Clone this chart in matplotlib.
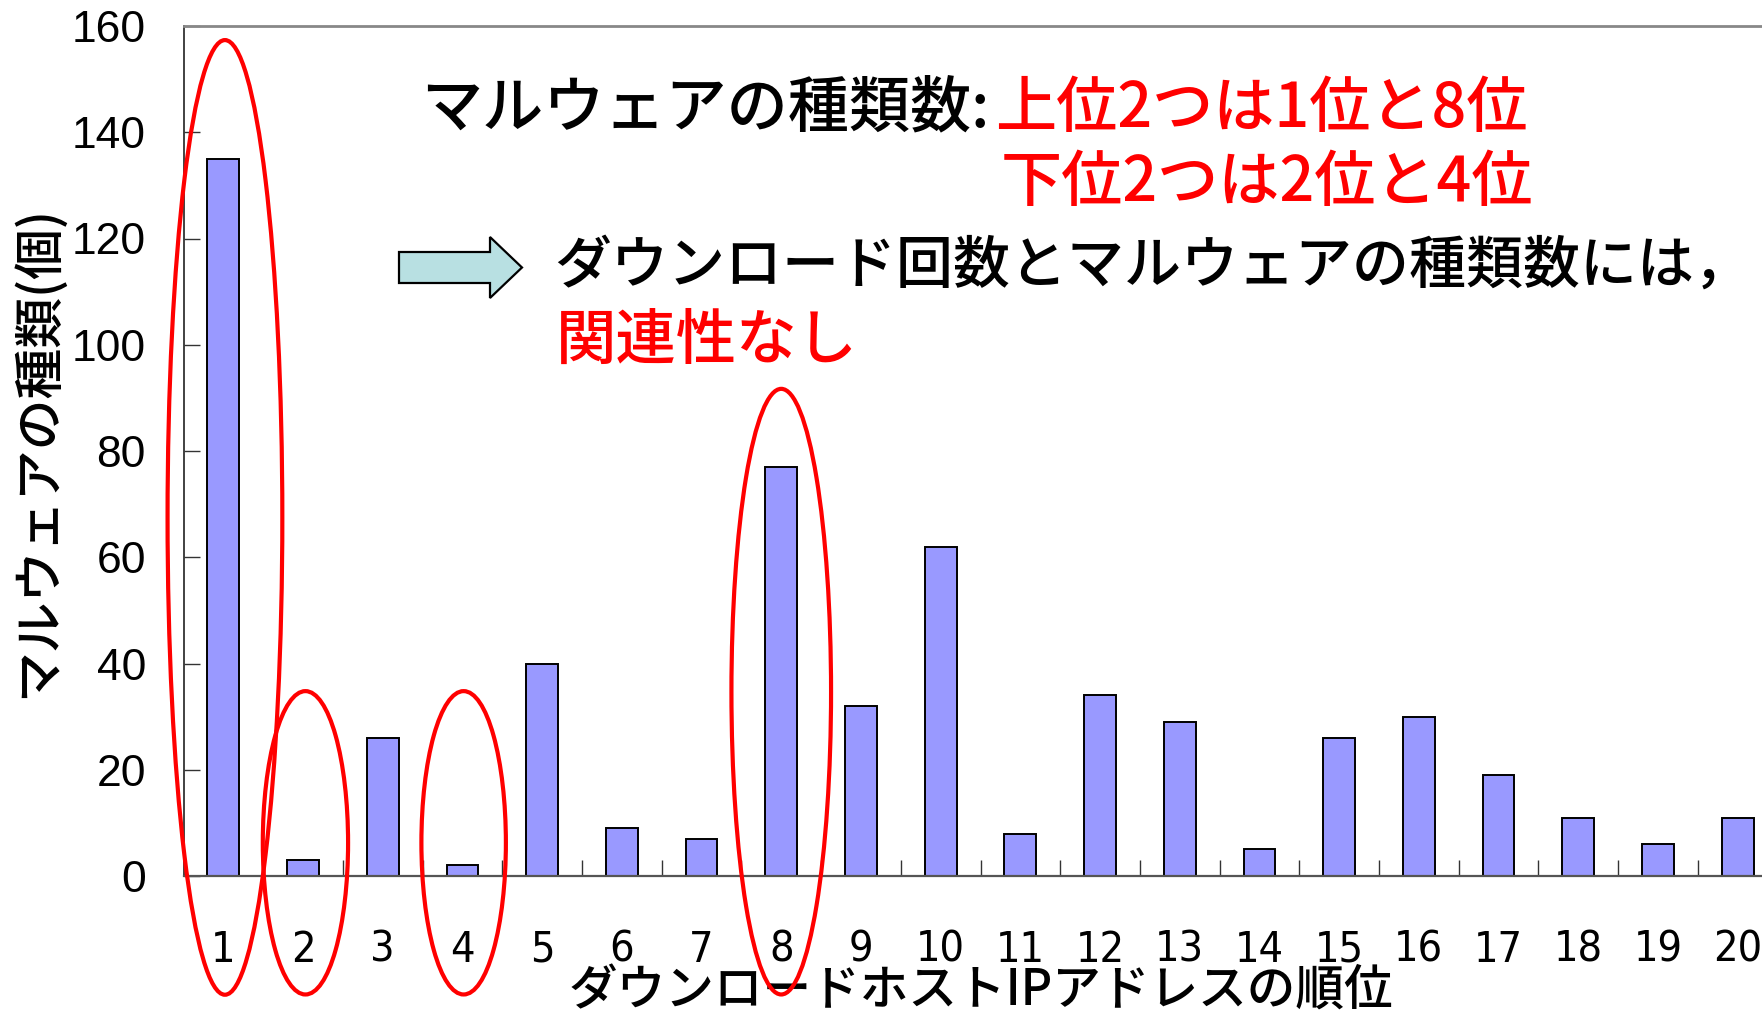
import matplotlib
matplotlib.use("Agg")
import matplotlib.pyplot as plt
from matplotlib.patches import Ellipse, FancyArrow

plt.rcParams['font.family'] = ['Noto Sans CJK JP', 'DejaVu Sans']

# Malware variety per download-host IP rank
ranks = list(range(1, 21))
malware_kinds = [135, 3, 26, 2, 40, 9, 7, 77, 32, 62, 8, 34, 29, 5, 26, 30, 19, 11, 6, 11]
rank_labels = [str(r) for r in ranks]
y_ticks = [0, 20, 40, 60, 80, 100, 120, 140, 160]

# Highlight ovals: (rank center, value center, width in ranks, height in values)
highlight_x = [1.02, 2.03, 4.015, 8.0]
highlight_y = [67.5, 6.25, 6.25, 34.7]
highlight_w = [1.44, 1.07, 1.06, 1.25]
highlight_h = [179.7, 57.1, 57.1, 114.0]

W, H = 1762, 1017
fig = plt.figure(figsize=(W / 100, H / 100), dpi=100)
ax = fig.add_axes([183.5 / W, 141 / H, 1594 / W, 850 / H])

ax.bar(ranks, malware_kinds, width=0.4, color='#9999FF', edgecolor='black',
       linewidth=1.4, zorder=2)

ax.set_xlim(0.5, 20.5)
ax.set_ylim(0, 160)
ax.set_yticks(y_ticks)
ax.set_yticklabels([str(v) for v in y_ticks], family=['Liberation Sans', 'DejaVu Sans'],
                   fontsize=32)
ax.set_xticks(ranks)
ax.set_xticklabels(rank_labels, family=['DejaVu Sans'], fontstretch='condensed',
                   fontsize=31)
ax.set_xticks([r + 0.5 for r in ranks[:-1]], minor=True)
ax.tick_params(axis='x', which='major', length=0, pad=38)
ax.tick_params(axis='x', which='minor', direction='in', length=11.5, width=1.0, color='#333333')
ax.tick_params(axis='y', which='major', direction='in', length=11.5, width=1.0,
               color='#333333', pad=27)

ax.spines['right'].set_visible(False)
ax.spines['left'].set_color('#333333')
ax.spines['left'].set_linewidth(1.3)
ax.spines['top'].set_color('#888888')
ax.spines['top'].set_linewidth(2.0)
ax.spines['bottom'].set_color('#555555')
ax.spines['bottom'].set_linewidth(1.6)

ax.set_ylabel('マルウェアの種類(個)', fontsize=36.5, fontweight='medium')
ax.yaxis.set_label_coords((37 - 183.5) / 1594, 0.5)
ax.yaxis.label.set_va('center')
ax.set_xlabel('ダウンロードホストIPアドレスの順位', fontsize=35, fontweight='medium')
ax.xaxis.set_label_coords(0.5, -116 / 850)
ax.xaxis.label.set_va('center')

for cx, cy, w, h in zip(highlight_x, highlight_y, highlight_w, highlight_h):
    ax.add_patch(Ellipse((cx, cy), w, h, fill=False, edgecolor='#FF0000',
                         linewidth=3.0, clip_on=False, zorder=4))

# Annotation texts (figure pixel positions measured from the top-left)
def ftext(x, y, s, color='black', size=44):
    fig.text(x / W, 1 - y / H, s, color=color, fontsize=size, fontweight='medium',
             ha='left', va='center')

ftext(421, 109, 'マルウェアの種類数:')
ftext(995, 109, '上位2つは1位と8位', color='#FF0000')
ftext(1001, 184, '下位2つは2位と4位', color='#FF0000')
ftext(554, 267, 'ダウンロード回数とマルウェアの種類数には，', size=41)
ftext(556, 341, '関連性なし', color='#FF0000', size=43.5)

# Block arrow pointing at the conclusion
fig.patches.append(FancyArrow(399 / W, 1 - 267.5 / H, 123 / W, 0,
                              width=31 / H, head_width=61 / H, head_length=32 / W,
                              length_includes_head=True, facecolor='#B8E0E2',
                              edgecolor='black', linewidth=1.6,
                              transform=fig.transFigure, figure=fig))

fig.savefig('out.png', dpi=100)
